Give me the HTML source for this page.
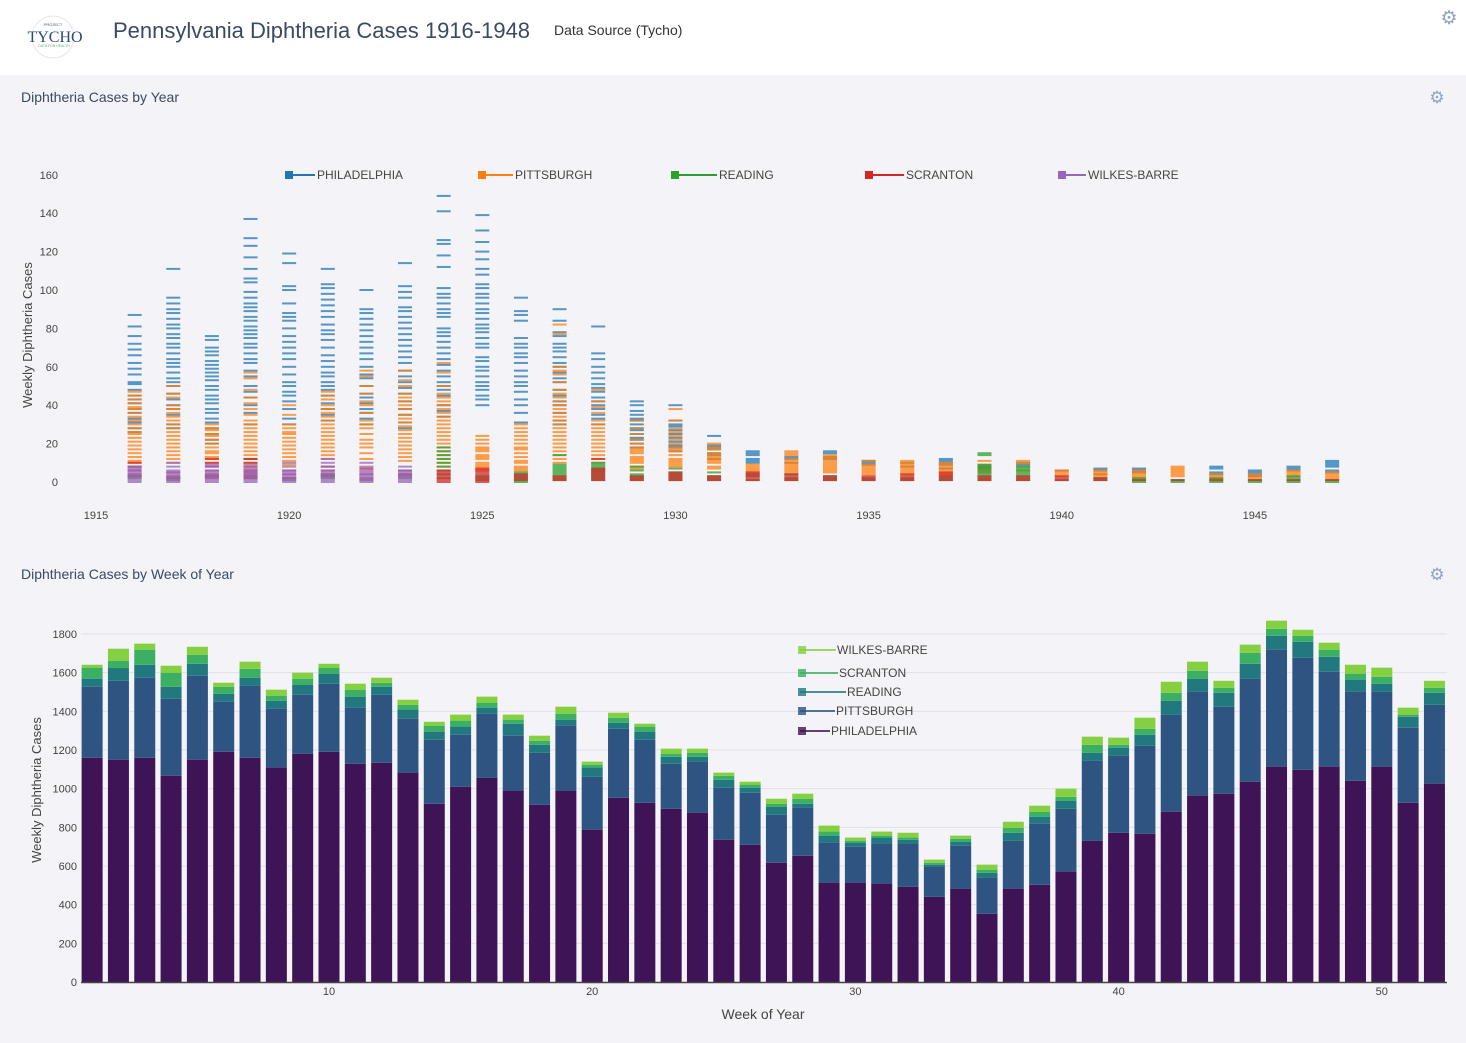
<!DOCTYPE html>
<html><head><meta charset="utf-8">
<style>
html,body{margin:0;padding:0;width:1466px;height:1043px;overflow:hidden;background:#f4f3f7;font-family:"Liberation Sans",sans-serif;}
#header{position:absolute;left:0;top:0;width:1466px;height:75px;background:#fff;}
svg{position:absolute;left:0;top:0;}
</style></head>
<body>
<div id="header"></div>
<svg id="chart" width="1466" height="1043">
  <g>
    <circle cx="53" cy="37" r="21" fill="#fff" stroke="#e6e6e6"/>
    <text x="53" y="26" font-size="4" text-anchor="middle" fill="#555" font-family="Liberation Sans, sans-serif">PROJECT</text>
    <text x="55" y="42" font-size="16" text-anchor="middle" fill="#2a4a6e" font-family="Liberation Serif, serif">TYCHO</text>
    <text x="54" y="47" font-size="3.5" text-anchor="middle" fill="#6a8" font-family="Liberation Sans, sans-serif">DATA FOR HEALTH</text>
  </g>
  <text x="113" y="38" font-size="22" fill="#3a4a63">Pennsylvania Diphtheria Cases 1916-1948</text>
  <text x="554" y="35" font-size="14" fill="#333">Data Source (Tycho)</text>
  <text x="1449" y="24" font-size="19" fill="#90a4c0" text-anchor="middle">⚙</text>

  <text x="21" y="102" font-size="14" fill="#3a4a63">Diphtheria Cases by Year</text>
  <text x="1437" y="103" font-size="17" fill="#90a4c0" text-anchor="middle">⚙</text>
  <g id="topchart"></g>

  <text x="21" y="579" font-size="14" fill="#3a4a63">Diphtheria Cases by Week of Year</text>
  <text x="1437" y="580" font-size="17" fill="#90a4c0" text-anchor="middle">⚙</text>
  <g id="botchart"></g>
</svg>
<script>
// ===== Top chart data (weekly case values per year, 1916..1947) =====
const years = [1916,1917,1918,1919,1920,1921,1922,1923,1924,1925,1926,1927,1928,1929,1930,1931,1932,1933,1934,1935,1936,1937,1938,1939,1940,1941,1942,1943,1944,1945,1946,1947];
const yearTicks = [1915,1920,1925,1930,1935,1940,1945];
const yTicksTop = [0,20,40,60,80,100,120,140,160];
const cityNames = ["PHILADELPHIA","PITTSBURGH","READING","SCRANTON","WILKES-BARRE"];
const phlByYear = [
[87,81,76,72,69,66,62,59,56,52,51,48,45,43,41,38,36,33,31,28,26],
[111,96,93,90,88,85,82,80,77,75,72,70,67,64,62,60,57,54,52,50,46,43,40,38,35,30,28],
[76,74,70,68,66,63,61,59,57,55,53,50,48,45,43,41,38,36,33,31,28,25,22,20],
[137,127,123,117,111,106,104,99,96,93,91,89,86,84,81,79,77,75,72,70,67,64,62,58,55,50,47,44,40,36,30],
[119,114,102,100,93,88,86,84,80,76,73,70,67,64,60,56,52,50,47,45,42,38,33,30],
[111,103,101,98,95,92,89,86,82,79,77,74,70,66,63,60,57,55,52,50,48,45,41,38,35,32],
[100,90,88,85,82,79,76,73,70,67,64,60,56,54,50,46,44,41,38,36,33,30],
[114,102,99,96,91,89,86,83,80,77,74,71,68,65,62,58,55,52,49,46,42,38,35,31,28],
[149,141,126,124,118,112,101,98,96,93,90,88,86,80,78,76,73,70,67,64,61,58,55,52,50,48,45,40,37,34],
[139,131,125,120,116,111,108,103,101,98,96,93,90,88,85,82,80,78,75,72,70,65,63,60,58,55,52,50,48,45,43,40],
[96,89,87,84,75,72,70,67,65,62,58,55,52,50,47,43,40,36,31],
[90,84,78,76,72,70,68,65,62,60,57,54,52,48,45,42,40,36,32,30],
[81,67,64,60,57,54,51,49,47,44,42,40,38,35,33,30],
[42,40,37,35,33,32,30,28,27,25,23,22,20,18],
[40,32,30,29,27,25,23,21,19,18,16],
[24,19,18,17,15,14,12],
[16,15,14,12,11,10],
[13,12,10],
[16,15,13,12],
[11,10,9],
[10,8],
[12,11,10,9,7],
[8,7],
[10,9],
[6],
[7,6,4],
[7,6,5],
[],
[8,7,5,4],
[6,5,4,3],
[8,7,6],
[11,10,9,8,6,5]];
const pitByYear = [
[47,45,43,41,39,38,36,34,32,30,28,26,25,23,21,19,17,15,13,11,10,8],
[50,46,44,40,38,36,34,32,30,28,26,24,22,20,18,16,14,12,10],
[30,28,27,25,24,22,20,18,16,15,13,12,10],
[57,54,48,44,41,38,35,32,30,28,26,24,22,20,18,16,14,12,10],
[40,35,30,28,26,25,23,21,19,17,15,13,11,9],
[47,45,43,40,38,36,34,32,30,28,26,24,22,20,18,16,14,12],
[58,55,50,46,42,40,36,32,30,28,25,22,20,18,15,12],
[58,53,50,46,44,42,40,38,35,33,31,29,27,25,23,21,19,17,15,13,11],
[62,57,50,46,44,42,40,38,36,34,32,30,28,26,24,22,20,18,16,14,12,10,8],
[24,22,20,18,17,16,14,13,12,10,9,8,7,6],
[30,28,26,24,22,20,18,17,15,13,11,10,8,7,6],
[82,77,60,58,56,52,48,46,44,42,40,38,36,34,32,30,28,26,24,22,20,18,16,14,12,10],
[48,42,39,36,32,30,28,26,24,22,20,18,16,14,12,10],
[32,28,25,22,20,18,17,16,15,13,12,11,10,8,7],
[38,32,28,26,24,22,20,18,17,16,14,12,11,10,9,8],
[20,18,17,15,14,13,12,11,10,8,7],
[9,8,7,6,5],
[16,15,14,12,11,10,9,8,7,6,5],
[14,13,12,11,10,9,8,7,6,5],
[11,9,8,7,6,5,4],
[11,10,9,8,7,6,5,4],
[10,9,8,7,6,5,4],
[11,9,7,6,5],
[11,10,8,6],
[6,5,4,3],
[6,5,4,3],
[6,5,4,3,2],
[8,7,6,5,4,3],
[4,3,2],
[4,3,2],
[6,5,4,3],
[5,4,3,2]];
const rdgByYear = [[2,3],[1,2],[3],[12,2,3],[1,2],[2,3,4],[1],[2,4],[18,16,14,12,10,8,6,4,2],[3,2,1],[5,4,3,2,1,0],[14,9,8,7,6,5,4,3,2,1],[10,9,8,7,6,5,4,3,2,1],[8,6,4,3,2,1],[7,5,4,3,2,1],[5,3,2,1],[4,3,1],[4,2,1],[3,2,1],[1,2],[2,1],[3,2,1],[15,14,9,8,7,6,5,4,3,2,1],[8,7,6,5,4,3,2,1],[1],[2,1],[2,1,0],[1,0],[2,1,0],[1,0],[3,2,1,0],[1,0]];
const scrByYear = [[10,8,6,4,3],[5,3,2],[12,10,8,6,4,3,2],[12,10,8,6,5,4,3,2],[6,4,2],[8,6,4,3],[7,4,2],[6,4,3],[6,5,4,3,2,1,0],[7,6,5,4,3,2,1,0],[4,3,2,1],[3,2,1],[12,7,6,5,4,3,2,1],[3,2,1],[5,4,3,2,1],[3,2,1],[5,4,3,2,1],[4,3,2,1],[3,2,1],[3,2,1],[4,3,2,1],[5,4,3,2,1],[3,2,1],[3,2,1],[3,2,1],[2,1],[1],[1],[1],[1],[1],[1]];
const wbByYear = [[8,7,6,5,4,3,2,1,0],[10,8,6,5,4,3,2,1,0],[9,8,6,5,4,3,2,1,0],[9,7,6,5,4,3,2,1,0],[10,8,6,5,4,3,2,1,0],[12,10,8,6,5,4,3,2,1,0],[10,8,6,5,4,3,2,1,0],[8,6,5,4,3,2,1,0],[],[],[],[],[],[],[],[],[],[],[],[],[],[],[],[],[],[],[],[],[],[],[],[]];

// ===== Bottom chart data (cases per week of year) =====
const weeks = [1,2,3,4,5,6,7,8,9,10,11,12,13,14,15,16,17,18,19,20,21,22,23,24,25,26,27,28,29,30,31,32,33,34,35,36,37,38,39,40,41,42,43,44,45,46,47,48,49,50,51,52];
const weekTicks = [10,20,30,40,50];
const yTicksBot = [0,200,400,600,800,1000,1200,1400,1600,1800];
const phlWeek = [1160,1150,1160,1067,1150,1191,1160,1109,1181,1191,1129,1134,1083,922,1010,1057,990,917,990,788,953,927,896,876,736,710,617,653,514,514,509,493,441,483,353,483,503,571,731,772,767,881,964,974,1036,1114,1098,1114,1041,1114,927,1026];
const pitWeek = [367,408,414,398,434,259,373,305,305,352,290,352,279,331,269,331,284,269,336,274,357,326,233,264,269,269,248,249,207,186,207,223,156,222,187,248,316,325,414,399,455,502,538,450,533,605,579,491,461,388,388,408];
const rdgWeek = [42,66,67,62,62,41,41,41,52,52,57,41,47,42,42,31,62,41,31,47,31,42,36,25,41,26,42,20,36,21,31,20,10,21,25,41,36,42,41,41,57,72,67,72,77,72,83,77,62,41,57,62];
const scrWeek = [57,38,78,73,47,36,46,26,31,31,36,21,25,31,31,26,21,21,31,15,26,26,16,21,21,16,15,26,21,10,10,11,10,15,16,26,26,20,41,15,31,41,41,26,57,36,31,37,31,36,11,26];
const wbWeek = [15,62,31,36,41,21,37,31,31,20,31,26,26,20,31,31,26,26,36,16,26,15,26,21,16,15,26,26,31,16,21,25,16,16,26,31,31,42,42,37,57,57,47,36,42,42,31,36,46,47,36,36];

const NS="http://www.w3.org/2000/svg";
function mk(tag,attrs,parent){const e=document.createElementNS(NS,tag);for(const k in attrs)e.setAttribute(k,attrs[k]);parent.appendChild(e);return e;}

// ---- Top chart ----
const topG=document.getElementById('topchart');
const tx=y=>96+(y-1915)*38.63;
const ty=v=>482-v*1.92;
yTicksTop.forEach(v=>{
  const t=mk('text',{x:58,y:ty(v)+4,'font-size':11,fill:'#444','text-anchor':'end'},topG);
  t.textContent=v;
  
  
});
yearTicks.forEach(y=>{
  const t=mk('text',{x:tx(y),y:519,'font-size':11,fill:'#444','text-anchor':'middle'},topG);
  t.textContent=y;
  
  
});
{const t=mk('text',{x:0,y:0,'font-size':13,fill:'#444','text-anchor':'middle',transform:'translate(32,335) rotate(-90)'},topG);
t.textContent='Weekly Diphtheria Cases';

}
const topColors=['#1f77b4','#ff7f0e','#2ca02c','#d62728','#9467bd'];
const topSeries=[phlByYear,pitByYear,rdgByYear,scrByYear,wbByYear];
topSeries.forEach((ser,si)=>{
  ser.forEach((vals,yi)=>{
    vals.forEach(v=>{
      const r=mk('rect',{x:tx(years[yi])-7,y:ty(v)-1,width:14,height:2,fill:topColors[si],opacity:0.75},topG);
      
      
    });
  });
});
const legX=[285,478,671,865,1058];
const legTX=[317,515,719,906,1088];
cityNames.forEach((n,i)=>{
  const g=mk('g',{},topG);
  
  
  mk('line',{x1:legX[i],y1:175,x2:legTX[i]-2,y2:175,stroke:topColors[i],'stroke-width':2},g);
  mk('rect',{x:legX[i],y:171,width:8,height:8,fill:topColors[i]},g);
  const t=mk('text',{x:legTX[i],y:179,'font-size':12,fill:'#444'},g);
  t.textContent=n;
});

// ---- Bottom chart ----
const botG=document.getElementById('botchart');
const bx=w=>329+(w-10)*26.32;
const by=v=>982-v*0.19333;
yTicksBot.forEach(v=>{
  if(v>0){const l=mk('line',{x1:81,x2:1447,y1:by(v),y2:by(v),stroke:'#e2e0e8','stroke-width':1},botG);
  
  }
  const t=mk('text',{x:77,y:by(v)+4,'font-size':11,fill:'#444','text-anchor':'end'},botG);
  t.textContent=v;
  
  
});
const botColors=['#3f1456','#2e5482','#22787f','#3bb063','#84d040'];
const botSeries=[phlWeek,pitWeek,rdgWeek,scrWeek,wbWeek];
weeks.forEach((w,i)=>{
  let base=0;
  botSeries.forEach((s,si)=>{
    const v=s[i];
    const r=mk('rect',{x:bx(w)-10.5,y:by(base+v),width:21,height:by(base)-by(base+v),fill:botColors[si]},botG);
    
    
    base+=v;
  });
});
{const l=mk('line',{x1:81,x2:1447,y1:982.5,y2:982.5,stroke:'#444','stroke-width':1.5},botG);

}
weekTicks.forEach(w=>{
  const t=mk('text',{x:bx(w),y:995,'font-size':11,fill:'#444','text-anchor':'middle'},botG);
  t.textContent=w;
  
  
});
{const t=mk('text',{x:763,y:1019,'font-size':14,fill:'#444','text-anchor':'middle'},botG);
t.textContent='Week of Year';

}
{const t=mk('text',{x:0,y:0,'font-size':13,fill:'#444','text-anchor':'middle',transform:'translate(41,790) rotate(-90)'},botG);
t.textContent='Weekly Diphtheria Cases';

}
const legItems=[[4,650,836],[3,673,838],[2,692,846],[1,711,835],[0,731,830]];
legItems.forEach(([ci,ly,lx2])=>{
  const g=mk('g',{},botG);
  
  
  mk('line',{x1:800,y1:ly,x2:lx2,y2:ly,stroke:botColors[ci],'stroke-width':2,opacity:0.8},g);
  mk('rect',{x:798,y:ly-4,width:8,height:8,fill:botColors[ci],opacity:0.8},g);
  const t=mk('text',{x:lx2+1,y:ly+4,'font-size':12,fill:'#444'},g);
  t.textContent=cityNames[ci];
});
</script>
</body></html>
